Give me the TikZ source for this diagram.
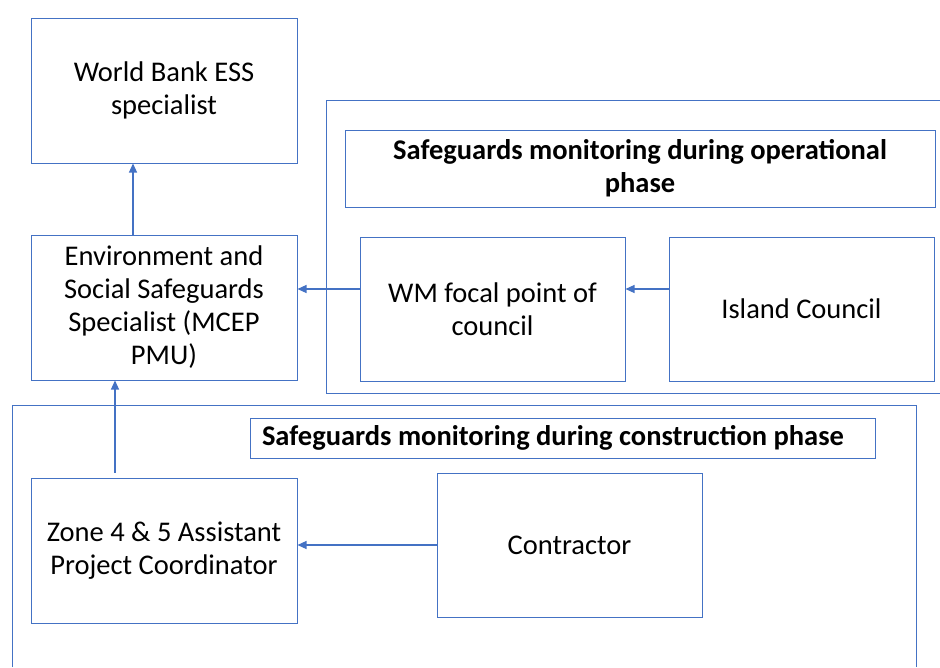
\documentclass[tikz,border=0pt]{standalone}
\usepackage{fontspec}
\setmainfont{Carlito}
\usepackage{tikz}
\usetikzlibrary{arrows.meta}

\definecolor{boxblue}{HTML}{4472C4}
\tikzset{
  box/.style={draw=boxblue, line width=1pt, align=center, inner sep=0pt,
    minimum width=266pt, minimum height=145pt},
  titlebox/.style={draw=boxblue, line width=1pt, align=center, inner sep=0pt,
    font=\fontsize{28.5}{33}\selectfont\bfseries},
  frame/.style={draw=boxblue, line width=1pt},
  link/.style={draw=boxblue, line width=1.2pt, -{Triangle[length=9pt,width=8pt]}}
}

\begin{document}
\begin{tikzpicture}[x=1pt, y=-1pt, font=\fontsize{28.5}{33}\selectfont]
  \useasboundingbox (0,0) rectangle (940,667);

  % phase frames
  \draw[frame] (940,100) -- (326,100) -- (326,393) -- (940,393);
  \draw[frame] (12,667) -- (12,405) -- (916,405) -- (916,667);

  \node (wb)         at (164,90.5)  [box] {World Bank ESS\\specialist};
  \node (ess)        at (164,307.5) [box] {Environment and\\Social Safeguards\\Specialist (MCEP\\PMU)};
  \node (opstitle)   at (640,168.5) [titlebox, minimum width=590pt, minimum height=77pt]
    {Safeguards monitoring during operational\\phase};
  \node (wm)         at (492.5,309) [box, minimum width=265pt, minimum height=144pt] {WM focal point of\\council};
  \node (island)     at (801.5,309) [box, minimum width=265pt, minimum height=144pt] {Island Council};
  \node (contitle)   at (562.5,438) [titlebox, minimum width=625pt, minimum height=40pt,
    text width=601pt, align=flush left] {Safeguards monitoring during construction phase};
  \node (zone)       at (164,550.5) [box] {Zone 4 \& 5 Assistant\\Project Coordinator};
  \node (contractor) at (569.5,545) [box, minimum width=265pt, minimum height=144pt] {Contractor};

  \draw[link] ([xshift=-31pt]ess.north) -- ([xshift=-31pt]wb.south);
  \draw[link] ([yshift=20pt]wm.west) -- ([yshift=20pt]wm.west -| ess.east);
  \draw[link] ([yshift=20pt]island.west) -- ([yshift=20pt]wm.east);
  \draw[link] (contractor.west) -- (contractor.west -| zone.east);
  \draw[link] ([xshift=-49pt,yshift=5pt]zone.north) -- ([xshift=-49pt]ess.south);
\end{tikzpicture}
\end{document}
